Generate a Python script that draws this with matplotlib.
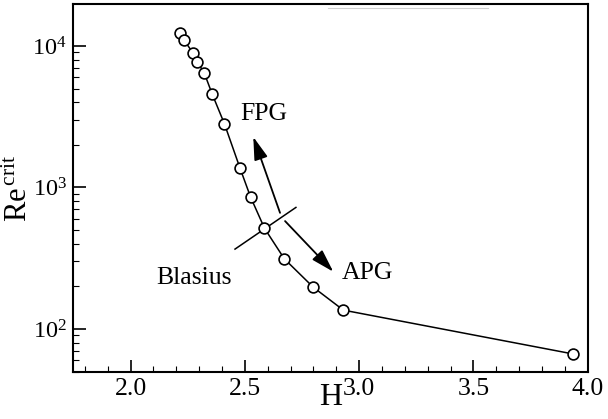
import matplotlib
matplotlib.use('Agg')
import matplotlib.pyplot as plt
from matplotlib.ticker import MultipleLocator, LogLocator
from matplotlib.lines import Line2D

plt.rcParams['font.family'] = ['Liberation Serif', 'DejaVu Serif']
plt.rcParams['mathtext.fontset'] = 'custom'
plt.rcParams['mathtext.rm'] = 'Liberation Serif'
plt.rcParams['mathtext.it'] = 'Liberation Serif:italic'

# Critical Reynolds number vs shape factor (Falkner-Skan profiles)
shape_factor = [2.217, 2.234, 2.272, 2.292, 2.323, 2.357, 2.411, 2.479,
                2.525, 2.586, 2.673, 2.800, 2.931, 3.937]
re_crit = [12400, 11000, 8980, 7740, 6410, 4580, 2810, 1368,
           857, 515, 313, 197, 136, 66.6]

# Blasius marker line and pressure-gradient arrows (data coords)
blasius_cut_h = [2.457, 2.7235]
blasius_cut_re = [367, 723]
fpg_tail, fpg_head = (2.654, 662), (2.537, 2278)
apg_tail, apg_head = (2.676, 579), (2.887, 254)

fig = plt.figure(figsize=(6.08, 4.19), dpi=100)
ax = fig.add_axes([0.1196, 0.1122, 0.847, 0.8783])

ax.plot(shape_factor, re_crit, color='black', lw=1.1, marker='o',
        markersize=7.8, markerfacecolor='white', markeredgecolor='black',
        markeredgewidth=1.2, zorder=3)
ax.plot(blasius_cut_h, blasius_cut_re, color='black', lw=1.1)

arrow_kw = dict(arrowstyle='-|>,head_length=1.0,head_width=0.3',
                mutation_scale=14, color='black', lw=1.3,
                shrinkA=0, shrinkB=0)
ax.annotate('', xy=fpg_head, xytext=fpg_tail, arrowprops=arrow_kw)
ax.annotate('', xy=apg_head, xytext=apg_tail, arrowprops=arrow_kw)

ax.text(2.584, 3300, 'FPG', fontsize=18.5, ha='center', va='center')
ax.text(3.035, 247, 'APG', fontsize=18.5, ha='center', va='center')
ax.text(2.2795, 228, 'Blasius', fontsize=18.5, ha='center', va='center')

ax.set_yscale('log')
ax.set_xlim(1.747, 4.0)
ax.set_ylim(49.7, 19800)

ax.xaxis.set_major_locator(MultipleLocator(0.5))
ax.xaxis.set_minor_locator(MultipleLocator(0.1))
ax.yaxis.set_major_locator(LogLocator(base=10))
ax.yaxis.set_minor_locator(LogLocator(base=10, subs=range(2, 10)))
ax.xaxis.set_major_formatter(plt.FuncFormatter(lambda v, p: f'{v:.1f}'))

ax.tick_params(which='both', direction='in', top=False, right=False,
               labelsize=18.5, width=1.2)
ax.tick_params(which='major', length=9)
ax.tick_params(which='minor', length=4.5, width=0.8)
ax.tick_params(axis='x', pad=4)
ax.tick_params(axis='y', pad=4, labelsize=17.5)
for s in ax.spines.values():
    s.set_linewidth(1.5)

ax.set_xlabel('H', fontsize=23, labelpad=-12)
ax.set_ylabel(r'Re$^{\,\mathrm{crit}}$', fontsize=22)
ax.yaxis.set_label_coords(-0.076, 0.5)

# faint rule along the top edge
fig.add_artist(Line2D([0.54, 0.802], [0.980, 0.980], color='#cfcfcf', lw=0.8))

plt.savefig('out.png', dpi=100)
